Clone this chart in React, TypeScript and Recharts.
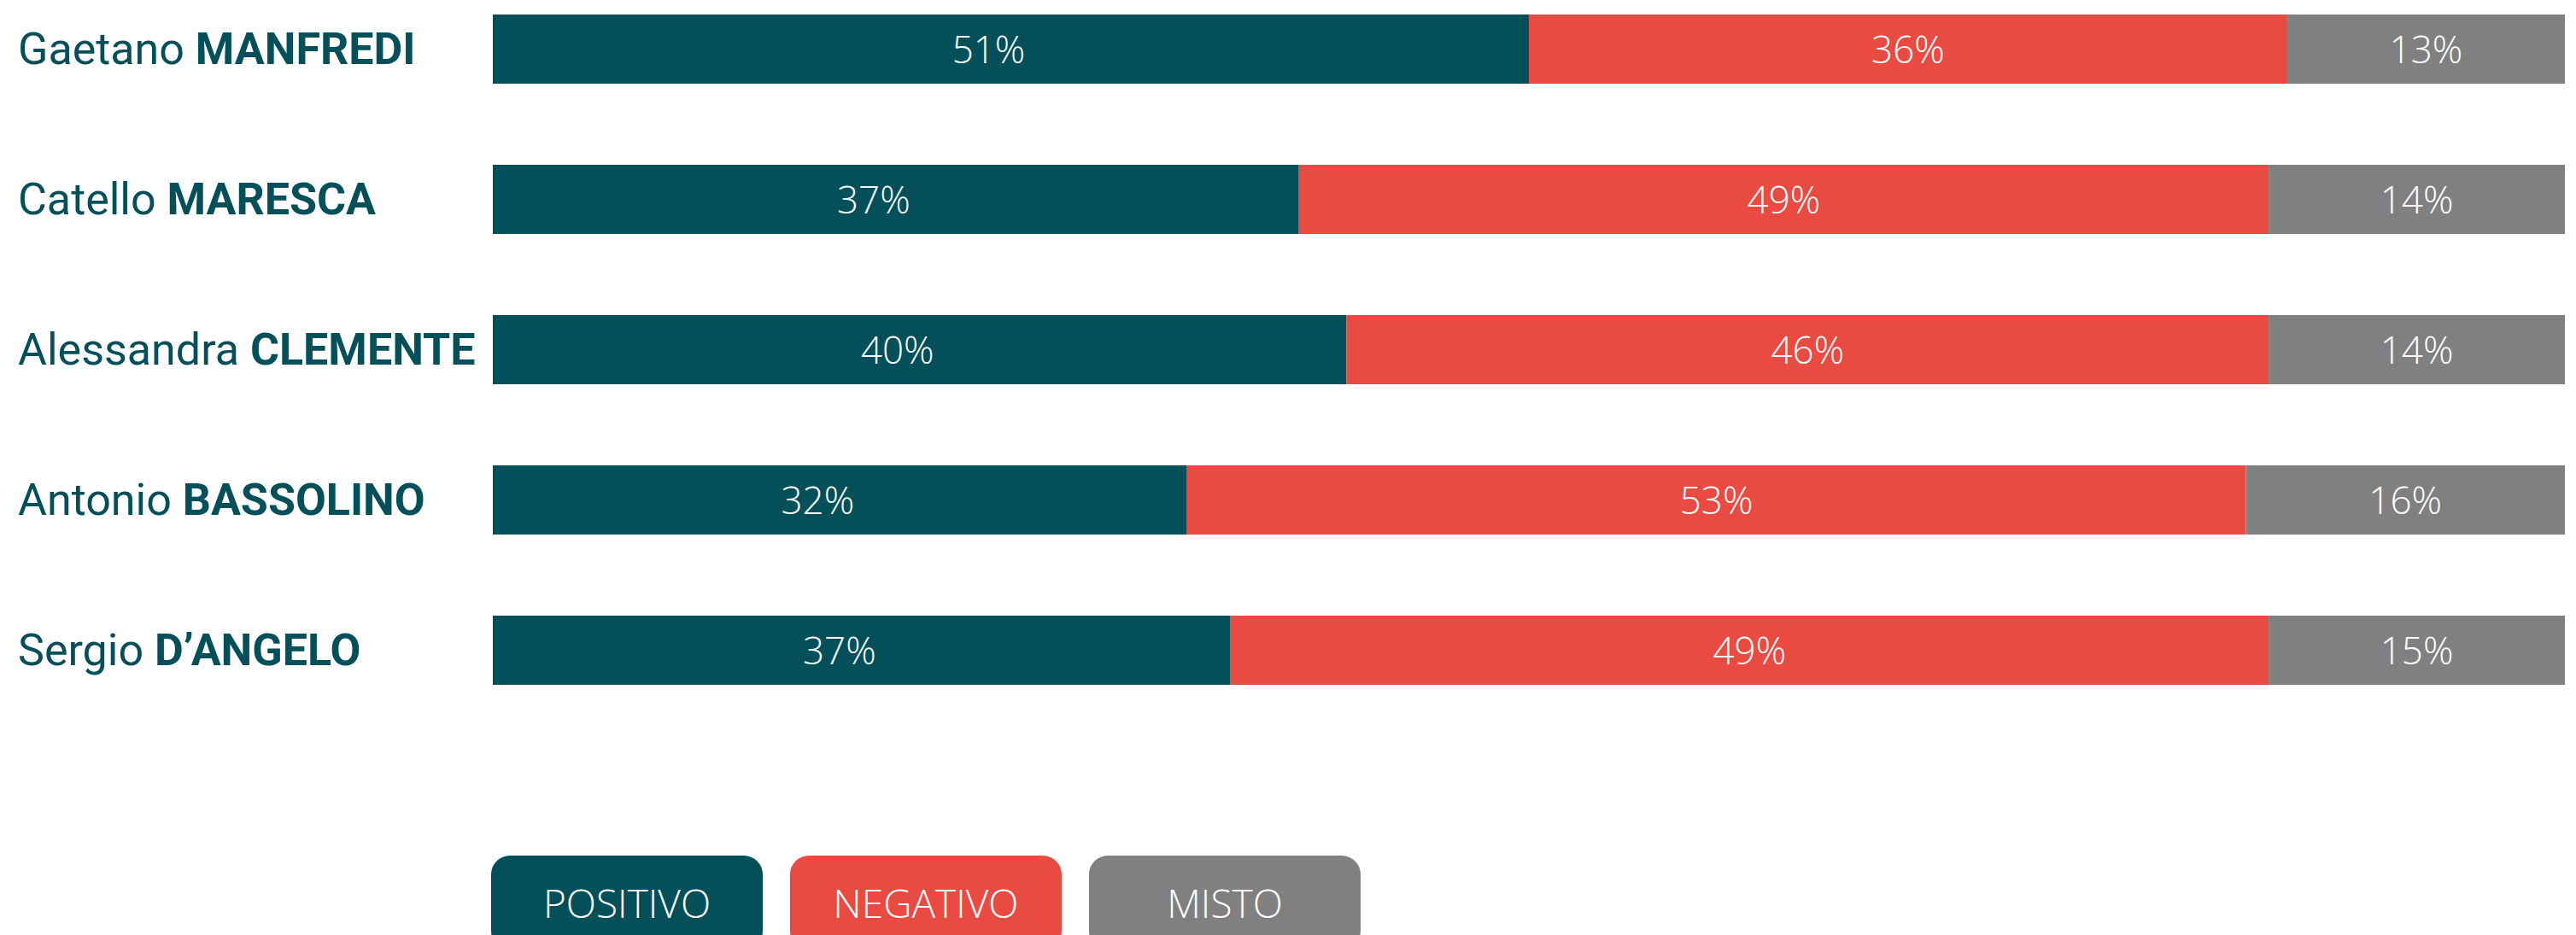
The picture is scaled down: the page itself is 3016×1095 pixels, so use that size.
import React from "react";
import { BarChart, Bar, XAxis, YAxis, LabelList, Legend } from "recharts";

// candidati (nome, cognome)
const firstNames = ["Gaetano", "Catello", "Alessandra", "Antonio", "Sergio"];
const lastNames = ["MANFREDI", "MARESCA", "CLEMENTE", "BASSOLINO", "D\u2019ANGELO"];

// lunghezze dei segmenti (quota della barra)
const positivo = [50.0, 38.9, 41.2, 33.5, 35.6];
const negativo = [36.6, 46.8, 44.5, 51.1, 50.1];
const misto = [13.4, 14.3, 14.3, 15.4, 14.3];

// etichette stampate sui segmenti
const positivoLabels = ["51%", "37%", "40%", "32%", "37%"];
const negativoLabels = ["36%", "49%", "46%", "53%", "49%"];
const mistoLabels = ["13%", "14%", "14%", "16%", "15%"];

const legendOrder = ["POSITIVO", "NEGATIVO", "MISTO"];

const TEAL = "#03505A";
const RED = "#E94A41";
const GREY = "#808080";

const data = firstNames.map((f, i) => ({
  name: `${f} ${lastNames[i]}`,
  first: f,
  last: lastNames[i],
  pos: positivo[i],
  neg: negativo[i],
  mix: misto[i],
  posL: positivoLabels[i],
  negL: negativoLabels[i],
  mixL: mistoLabels[i],
}));

const NameTick = (props: any) => {
  const row = data[props.index];
  return (
    <text x={21} y={props.y} dy={18} fill={TEAL} fontSize={52} fontFamily="Roboto">
      <tspan>{row.first} </tspan>
      <tspan fontWeight={700}>{row.last}</tspan>
    </text>
  );
};

const segLabel = (dx: number) => (p: any) => (
  <text
    x={p.x + p.width / 2 + dx}
    y={p.y + p.height / 2}
    dy={16}
    textAnchor="middle"
    fill="#fff"
    fontSize={44}
    fontWeight={300}
    fontFamily="'Open Sans'"
  >
    {p.value}
  </text>
);

const renderLegend = (props: any) => {
  const items = [...props.payload].sort(
    (a: any, b: any) => legendOrder.indexOf(a.value) - legendOrder.indexOf(b.value)
  );
  return (
    <div style={{ display: "flex", gap: 32 }}>
      {items.map((e: any) => (
        <div
          key={e.value}
          style={{
            width: 318,
            height: 110,
            borderRadius: 22,
            background: e.color,
            color: "#fff",
            fontFamily: "'Open Sans'",
            fontWeight: 300,
            fontSize: 46,
            display: "flex",
            alignItems: "center",
            justifyContent: "center",
          }}
        >
          {e.value}
        </div>
      ))}
    </div>
  );
};

export default function App() {
  return (
    <div style={{ position: "fixed", left: 0, top: 0, width: 3016, height: 1095, overflow: "hidden", background: "#fff" }}>
      <BarChart
        width={3016}
        height={1095}
        data={data}
        layout="vertical"
        margin={{ top: -31, right: 13, left: 0, bottom: 246 }}
        barSize={81}
      >
        <XAxis type="number" domain={[0, 100]} hide />
        <YAxis
          type="category"
          dataKey="name"
          width={577}
          axisLine={false}
          tickLine={false}
          tick={<NameTick />}
          interval={0}
        />
        <Legend
          layout="horizontal"
          verticalAlign="middle"
          align="center"
          content={renderLegend}
          wrapperStyle={{ position: "absolute", left: 575, top: 1002, width: "auto" }}
        />
        <Bar dataKey="pos" name="POSITIVO" stackId="a" fill={TEAL} isAnimationActive={false}>
          <LabelList dataKey="posL" content={segLabel(-26)} />
        </Bar>
        <Bar dataKey="neg" name="NEGATIVO" stackId="a" fill={RED} isAnimationActive={false}>
          <LabelList dataKey="negL" content={segLabel(0)} />
        </Bar>
        <Bar dataKey="mix" name="MISTO" stackId="a" fill={GREY} isAnimationActive={false}>
          <LabelList dataKey="mixL" content={segLabel(0)} />
        </Bar>
      </BarChart>
    </div>
  );
}
